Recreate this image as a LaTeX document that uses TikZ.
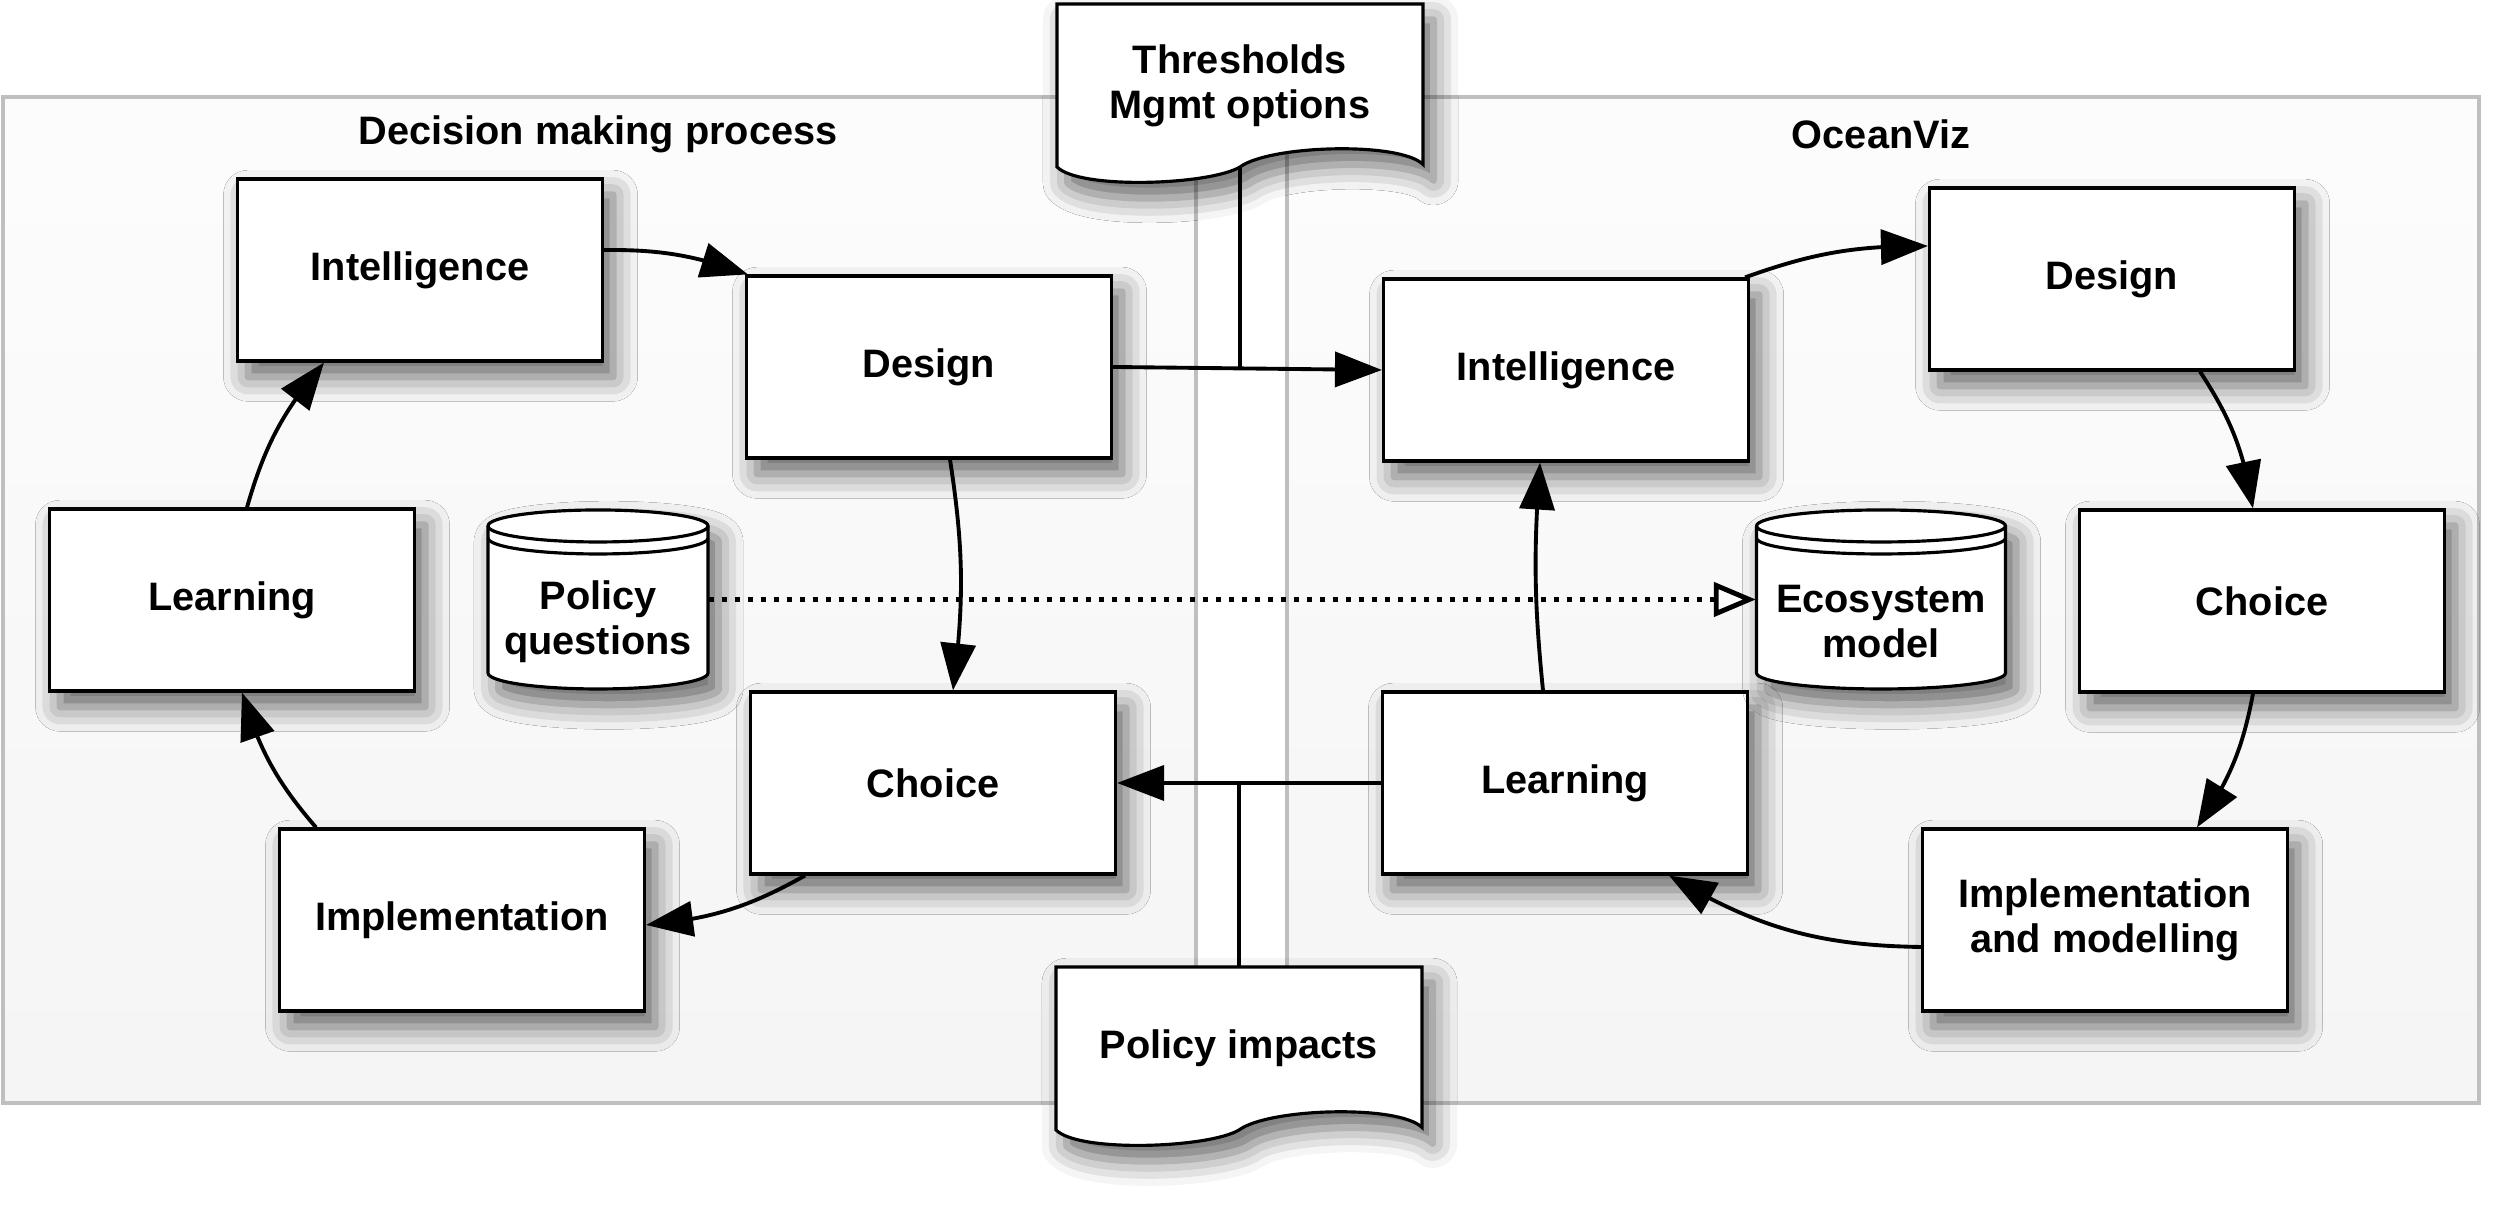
\documentclass[tikz,border=0pt]{standalone}
\usepackage{fontspec}
\setmainfont{Liberation Sans}
\usepackage{tikz}
\usetikzlibrary{calc, positioning}
\usetikzlibrary{arrows.meta}
\usetikzlibrary{bending}
\usetikzlibrary{shadows.blur}
\newcommand{\labelfont}{\fontsize{11.3}{12.8}\selectfont\bfseries}
\tikzset{>={Triangle[length=4.7mm,width=3.5mm,fill=black]}}
\tikzset{
	softshadow/.style={blur shadow={shadow xshift=3pt, shadow yshift=-4.5pt, shadow blur radius=7pt, shadow opacity=60}},
	panel/.style={draw=black!25, line width=0.9pt, top color=black!1, bottom color=black!4},
	stagebox/.style={draw, line width=0.9pt, fill=white, minimum width=3.65cm, minimum height=1.82cm, align=center, font=\labelfont, softshadow},
	docnode/.style={minimum width=3.66cm, minimum height=1.63cm, inner sep=0pt, align=center, font=\labelfont},
	dbnode/.style={minimum height=1.2cm, inner sep=0pt, align=center, font=\labelfont},
	docline/.style={draw, line width=0.9pt, fill=white, softshadow},
	flow/.style={->, line width=1.1pt, draw opacity=1, fill opacity=1},
	dotflow/.style={line width=1.4pt, dash pattern=on 1.4pt off 2.3pt, -{Triangle[open, fill=white, length=4.2mm, width=3.4mm]}}
}
\newcommand{\docshape}[1]{%
	\draw[docline] ($#1+(-1.83,-0.815)$) -- ($#1+(-1.83,0.815)$) -- ($#1+(1.83,0.815)$) -- ($#1+(1.83,-0.79)$) .. controls +(-0.23,0.23) and +(0.3,0.22) .. ($#1+(0,-0.815)$) .. controls +(-0.3,-0.18) and +(0.23,-0.23) .. ($#1+(-1.83,-0.815)$) -- cycle;}
\newcommand{\dbshape}[3]{%
	\draw[docline] ($#1+(-#2,#3-0.16)$) -- ($#1+(-#2,-#3+0.16)$) arc[start angle=180, end angle=360, x radius=#2, y radius=0.16] -- ($#1+(#2,#3-0.16)$) arc[start angle=0, end angle=180, x radius=#2, y radius=0.16] -- cycle;
	\draw[line width=0.9pt] ($#1+(-#2,#3-0.16)$) arc[start angle=180, end angle=360, x radius=#2, y radius=0.16];
	\draw[line width=0.9pt] ($#1+(-#2,#3-0.28)$) arc[start angle=180, end angle=360, x radius=#2, y radius=0.16];}

\begin{document}
\begin{tikzpicture}
	\useasboundingbox (0,0) rectangle (25,12.05);
	\draw [panel] (0.03,1.02) rectangle (11.96,11.08);
	\draw [panel] (12.87,1.02) rectangle (24.79,11.08);
	\node [font=\labelfont] (ttlL) at (5.98,10.71) {Decision making process};
	\node [font=\labelfont] (ttlR) at (18.81,10.71) {OceanViz};

	\node [stagebox] (intL) at (4.20,9.35) {Intelligence};
	\node [stagebox] (desL) at (9.29,8.38) {Design};
	\node [stagebox] (lrnL) at (2.32,6.05) {Learning};
	\node [stagebox] (choL) at (9.33,4.22) {Choice};
	\node [stagebox] (impL) at (4.62,2.85) {Implementation};

	\node [stagebox] (intR) at (15.66,8.35) {Intelligence};
	\node [stagebox] (desR) at (21.12,9.26) {Design};
	\node [stagebox] (choR) at (22.62,6.04) {Choice};
	\node [stagebox] (impR) at (21.05,2.85) {Implementation\\and modelling};
	\node [stagebox] (lrnR) at (15.65,4.22) {Learning};

	\dbshape{(5.98,6.055)}{1.1}{0.895}
	\node [dbnode, minimum width=2.2cm] (polq) at (5.98,5.83) {Policy\\questions};
	\dbshape{(18.81,6.055)}{1.245}{0.895}
	\node [dbnode, minimum width=2.49cm] (eco) at (18.81,5.83) {Ecosystem\\model};

	\docshape{(12.40,11.195)}
	\node [docnode] (thr) at (12.40,11.195) {Thresholds\\Mgmt options};
	\docshape{(12.39,1.565)}
	\node [docnode] (pim) at (12.39,1.565) {Policy impacts};

	\draw [flow] ([yshift=2mm]intL.east) to[bend left=10] ([xshift=0.3mm]desL.north west);
	\draw [flow] ([xshift=2.1mm]desL.south) to[bend left=8] ([xshift=2mm]choL.north);
	\draw [flow] ([xshift=-12.8mm]choL.south) to[bend left=12] ([yshift=-0.5mm]impL.east);
	\draw [flow] ([xshift=-14.6mm]impL.north) to[bend left=12] ([xshift=1mm]lrnL.south);
	\draw [flow] ([xshift=1.5mm]lrnL.north) to[bend left=12] ([xshift=-9.6mm]intL.south);

	\draw [flow] ([xshift=-0.5mm]intR.north east) to[bend left=10] ([yshift=3.3mm]desR.west);
	\draw [flow] ([xshift=8.8mm]desR.south) to[bend left=12] ([xshift=-0.9mm]choR.north);
	\draw [flow] ([xshift=-0.9mm]choR.south) to[bend left=12] ([xshift=9.2mm]impR.north);
	\draw [flow] ([yshift=-2.7mm]impR.west) to[bend left=15] ([xshift=10.4mm]lrnR.south);
	\draw [flow] ([xshift=-2.2mm]lrnR.north) to[bend left=5] ([xshift=-2.6mm]intR.south);

	\draw [flow] (desL.east) -- (intR.west);
	\draw [line width=0.9pt] (thr.south) -- (thr.south |- desL.east);
	\draw [flow] (lrnR.west) -- (choL.east);
	\draw [line width=0.9pt] (pim.north) -- (pim.north |- lrnR.west);

	\draw [dotflow] ([yshift=2.25mm]polq.east) -- ([yshift=2.25mm]eco.west);
\end{tikzpicture}
\end{document}
